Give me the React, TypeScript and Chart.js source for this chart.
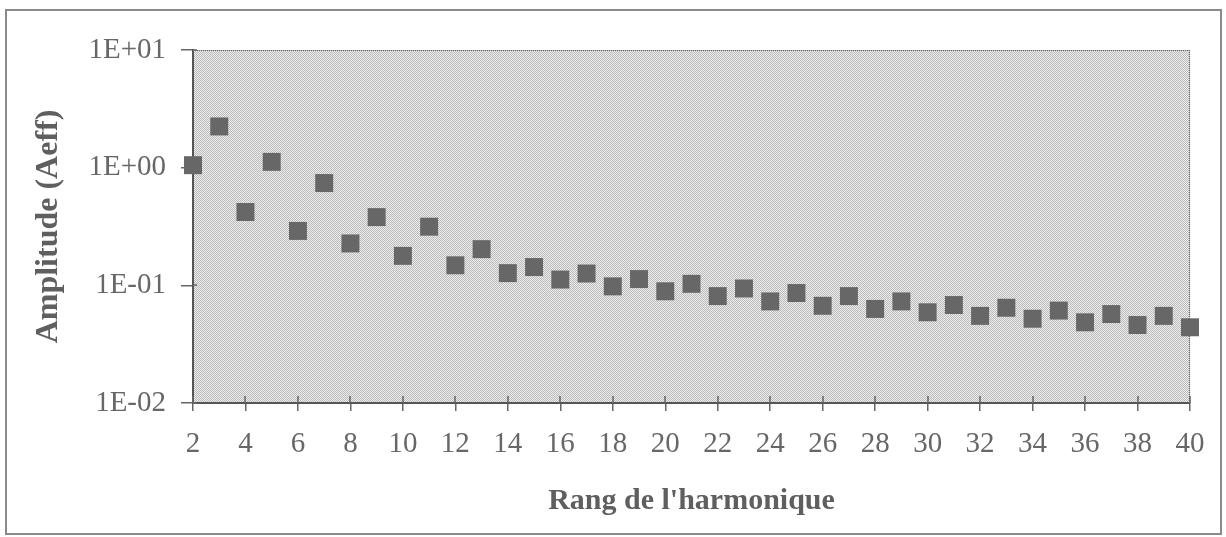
import React, { useEffect, useRef } from 'react';
import { Chart, registerables } from 'chart.js';

Chart.register(...registerables);

// ---- Data ----
const harmonics = [
  2, 3, 4, 5, 6, 7, 8, 9, 10, 11, 12, 13, 14, 15, 16, 17, 18, 19, 20, 21,
  22, 23, 24, 25, 26, 27, 28, 29, 30, 31, 32, 33, 34, 35, 36, 37, 38, 39, 40,
];
const amplitudes = [
  1.05, 2.24, 0.42, 1.12, 0.29, 0.74, 0.227, 0.38, 0.178, 0.315,
  0.148, 0.203, 0.127, 0.143, 0.112, 0.126, 0.098, 0.113, 0.089, 0.103,
  0.081, 0.094, 0.073, 0.086, 0.067, 0.081, 0.063, 0.073, 0.059, 0.068,
  0.055, 0.0645, 0.052, 0.061, 0.0485, 0.057, 0.046, 0.055, 0.044,
];
const yTickValues = [0.01, 0.1, 1, 10];
const yTickLabels = ['1E-02', '1E-01', '1E+00', '1E+01'];
const xTickValues = [2, 4, 6, 8, 10, 12, 14, 16, 18, 20, 22, 24, 26, 28, 30, 32, 34, 36, 38, 40];
const xTitle = "Rang de l'harmonique";
const yTitle = 'Amplitude (Aeff)';

// ---- Layout ----
const W = 1226;
const H = 537;
const AREA = { left: 193, right: 1190, top: 50, bottom: 403 };
const FONT = "'Liberation Serif', 'Times New Roman', Times, serif";

function makePattern(ctx: CanvasRenderingContext2D) {
  const p = document.createElement('canvas');
  p.width = 2;
  p.height = 2;
  const c = p.getContext('2d')!;
  c.fillStyle = '#ededed';
  c.fillRect(0, 0, 2, 2);
  c.fillStyle = '#bababa';
  c.fillRect(0, 0, 1, 1);
  c.fillRect(1, 1, 1, 1);
  return ctx.createPattern(p, 'repeat');
}

const areaPlugin = {
  id: 'areaStyle',
  beforeDraw(chart: any) {
    const { ctx, chartArea: a } = chart;
    ctx.save();
    const pat = makePattern(ctx);
    ctx.fillStyle = pat || '#d3d3d3';
    ctx.fillRect(a.left, a.top, a.right - a.left, a.bottom - a.top);
    ctx.restore();
  },
  beforeDatasetsDraw(chart: any) {
    const { ctx, chartArea: a, scales } = chart;
    ctx.save();
    // dotted top and right borders
    ctx.strokeStyle = '#6a6a6a';
    ctx.lineWidth = 1.2;
    ctx.setLineDash([1, 1]);
    ctx.beginPath();
    ctx.moveTo(a.left, a.top + 0.5);
    ctx.lineTo(a.right, a.top + 0.5);
    ctx.moveTo(a.right - 0.5, a.top);
    ctx.lineTo(a.right - 0.5, a.bottom);
    ctx.stroke();
    ctx.setLineDash([]);
    // inside parts of crossing tick marks
    ctx.strokeStyle = '#666';
    ctx.lineWidth = 1.5;
    ctx.beginPath();
    scales.x.ticks.forEach((t: any) => {
      const px = Math.round(scales.x.getPixelForValue(t.value));
      ctx.moveTo(px, a.bottom);
      ctx.lineTo(px, a.bottom - 7);
    });
    scales.y.ticks.forEach((t: any) => {
      const py = Math.round(scales.y.getPixelForValue(t.value));
      ctx.moveTo(a.left, py);
      ctx.lineTo(a.left + 4, py);
    });
    ctx.stroke();
    ctx.restore();
  },
};

export default function App() {
  const ref = useRef<HTMLCanvasElement | null>(null);

  useEffect(() => {
    if (!ref.current) return;
    Chart.defaults.font.family = FONT;
    const chart = new Chart(ref.current, {
      type: 'scatter',
      data: {
        datasets: [
          {
            data: harmonics.map((h, i) => ({ x: h, y: amplitudes[i] })),
            pointStyle: 'rect',
            pointRadius: 12.7,
            pointHoverRadius: 12.7,
            backgroundColor: '#676767',
            borderWidth: 0,
            showLine: false,
            clip: false as any,
          },
        ],
      },
      options: {
        animation: false,
        responsive: false,
        maintainAspectRatio: false,
        events: [],
        layout: { padding: { top: AREA.top, right: W - AREA.right, left: 0, bottom: 0 } },
        plugins: {
          legend: { display: false },
          tooltip: { enabled: false },
        },
        scales: {
          x: {
            type: 'linear',
            min: 2,
            max: 40,
            afterBuildTicks: (s: any) => {
              s.ticks = xTickValues.map((v) => ({ value: v }));
            },
            afterFit: (s: any) => {
              s.height = H - AREA.bottom;
            },
            ticks: {
              autoSkip: false,
              maxRotation: 0,
              font: { size: 29, family: FONT },
              color: '#676767',
              padding: 16,
            },
            grid: { drawOnChartArea: false, tickLength: 8, color: '#666', lineWidth: 1.5 },
            border: { display: true, color: '#555', width: 2 },
            title: {
              display: true,
              text: xTitle,
              font: { size: 30, weight: 'bold', family: FONT },
              color: '#5f5f5f',
              padding: { top: 0, bottom: 18 },
            },
          },
          y: {
            type: 'logarithmic',
            min: 0.01,
            max: 10,
            afterBuildTicks: (s: any) => {
              s.ticks = yTickValues.map((v) => ({ value: v }));
            },
            afterFit: (s: any) => {
              s.width = AREA.left;
            },
            ticks: {
              autoSkip: false,
              font: { size: 29, family: FONT },
              color: '#676767',
              padding: 15,
              callback: (v: any) => {
                const i = yTickValues.indexOf(Number(v));
                return i >= 0 ? yTickLabels[i] : '';
              },
            },
            grid: { drawOnChartArea: false, tickLength: 12, color: '#666', lineWidth: 1.5 },
            border: { display: true, color: '#555', width: 2 },
            title: {
              display: true,
              text: yTitle,
              font: { size: 32, weight: 'bold', family: FONT },
              color: '#5f5f5f',
              padding: { top: 30, bottom: 0 },
            },
          },
        },
      },
      plugins: [areaPlugin],
    });
    return () => chart.destroy();
  }, []);

  return (
    <div style={{ position: 'absolute', left: 0, top: 0, width: W, height: H, background: '#fff' }}>
      <div
        style={{
          position: 'absolute',
          left: 5,
          top: 9,
          width: 1217,
          height: 526,
          boxSizing: 'border-box',
          border: '2px solid #8a8a8a',
          pointerEvents: 'none',
        }}
      />
      <canvas
        ref={ref}
        width={W}
        height={H}
        style={{ position: 'absolute', left: 0, top: 0, width: W, height: H, display: 'block' }}
      />
    </div>
  );
}
